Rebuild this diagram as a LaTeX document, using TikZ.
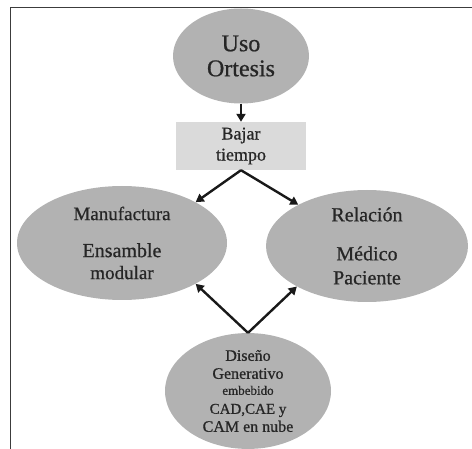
\documentclass[tikz,border=0pt]{standalone}
\usepackage{fontspec}
\setmainfont{Liberation Serif}[FakeBold=0.7]
\usetikzlibrary{shapes.geometric,arrows.meta}
\definecolor{burbuja}{RGB}{178,178,178}
\definecolor{caja}{RGB}{218,218,218}
\definecolor{marco}{RGB}{60,60,60}

\begin{document}
\begin{tikzpicture}[x=1pt, y=-1pt,
  burbuja/.style={ellipse, fill=burbuja, inner sep=0pt, align=center, text=black!85},
  flecha/.style={line width=2.4pt, black!90, -{Triangle[length=8pt,width=9pt]}}]
\useasboundingbox (0,0) rectangle (472,449);
\draw [marco, line width=0.8pt] (10,449) -- (10,7) -- (472,7);
\node [burbuja, minimum width=136pt, minimum height=95pt, font=\fontsize{24}{25}\selectfont] (uso) at (241,56) {Uso\\Ortesis};
\node [fill=caja, minimum width=130pt, minimum height=48pt, inner sep=0pt, align=center, text=black!85, font=\fontsize{18}{21}\selectfont] (bajar) at (241,146) {Bajar\\tiempo};
\node [burbuja, minimum width=210pt, minimum height=114pt, font=\fontsize{19}{22}\selectfont] (manuf) at (122,243) {Manufactura\\[15pt]\fontsize{20}{22}\selectfont Ensamble\\modular};
\node [burbuja, minimum width=202pt, minimum height=112pt, font=\fontsize{20}{24}\selectfont] (relac) at (367,246) {Relación\\[15pt]Médico\\Paciente};
\node [burbuja, minimum width=166pt, minimum height=114pt, font=\fontsize{16}{18}\selectfont] (diseno) at (248,391) {Diseño\\Generativo\\[-2pt]{\fontsize{13}{15}\selectfont embebido}\\[1pt]\fontsize{15}{17}\selectfont CAD,CAE y\\CAM en nube};
\draw [flecha] (uso.south) -- (bajar.north);
\draw [flecha] (bajar.south) -- (manuf.29);
\draw [flecha] (bajar.south) -- (relac.149);
\draw [flecha] (diseno.north) -- (manuf.-29);
\draw [flecha] (diseno.north) -- (relac.-150);
\end{tikzpicture}
\end{document}
